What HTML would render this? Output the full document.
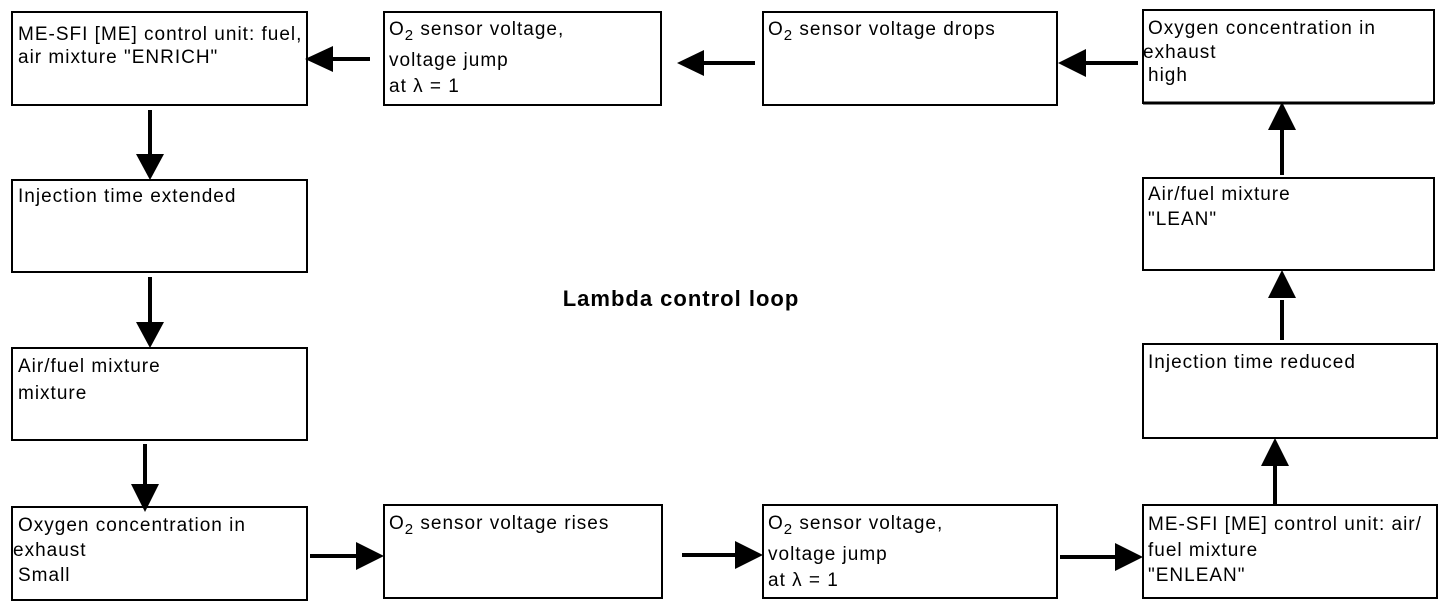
<!DOCTYPE html>
<html><head><meta charset="utf-8"><style>
html,body{margin:0;padding:0;background:#fff;width:1456px;height:610px;overflow:hidden}
svg text{font-family:"Liberation Sans",Arial,sans-serif;font-size:19px;letter-spacing:1px;fill:#000}
</style></head><body>
<svg width="1456" height="610" viewBox="0 0 1456 610" xmlns="http://www.w3.org/2000/svg">
<g fill="#fff" stroke="#000" stroke-width="2">
<rect x="12" y="12" width="295" height="93"/>
<rect x="384" y="12" width="277" height="93"/>
<rect x="763" y="12" width="294" height="93"/>
<rect x="1143" y="10" width="291" height="93"/>
<rect x="12" y="180" width="295" height="92"/>
<rect x="12" y="348" width="295" height="92"/>
<rect x="12" y="507" width="295" height="93"/>
<rect x="384" y="505" width="278" height="93"/>
<rect x="763" y="505" width="294" height="93"/>
<rect x="1143" y="505" width="294" height="93"/>
<rect x="1143" y="178" width="291" height="92"/>
<rect x="1143" y="344" width="294" height="94"/>
</g>
<line x1="1143" y1="103" x2="1434" y2="103" stroke="#000" stroke-width="3"/>
<g stroke="#000" stroke-width="4">
<line x1="370" y1="59" x2="330" y2="59"/>
<line x1="755" y1="63" x2="700" y2="63"/>
<line x1="1138" y1="63" x2="1080" y2="63"/>
<line x1="150" y1="110" x2="150" y2="158"/>
<line x1="150" y1="277" x2="150" y2="325"/>
<line x1="145" y1="444" x2="145" y2="485"/>
<line x1="310" y1="556" x2="360" y2="556"/>
<line x1="682" y1="555" x2="735" y2="555"/>
<line x1="1060" y1="557" x2="1115" y2="557"/>
<line x1="1275" y1="505" x2="1275" y2="465"/>
<line x1="1282" y1="340" x2="1282" y2="300"/>
<line x1="1282" y1="175" x2="1282" y2="130"/>
</g>
<g fill="#000">
<polygon points="305,59 333,46 333,72"/>
<polygon points="677,63 704,50 704,76"/>
<polygon points="1058,63 1086,49 1086,77"/>
<polygon points="150,180 136,154 164,154"/>
<polygon points="150,348 136,322 164,322"/>
<polygon points="145,512 131,484 159,484"/>
<polygon points="384,556 356,542 356,570"/>
<polygon points="763,555 735,541 735,569"/>
<polygon points="1143,557 1115,543 1115,571"/>
<polygon points="1275,438 1261,466 1289,466"/>
<polygon points="1282,270 1268,298 1296,298"/>
<polygon points="1282,102 1268,130 1296,130"/>
</g>
<text x="18" y="40">ME-SFI [ME] control unit: fuel,</text>
<text x="18" y="63">air mixture "ENRICH"</text>
<text x="389" y="35">O<tspan font-size="15" dy="5">2</tspan><tspan dy="-5"> sensor voltage,</tspan></text>
<text x="389" y="66">voltage jump</text>
<text x="389" y="92">at  λ = 1</text>
<text x="768" y="35">O<tspan font-size="15" dy="5">2</tspan><tspan dy="-5"> sensor voltage drops</tspan></text>
<text x="1148" y="34">Oxygen concentration in</text>
<text x="1143" y="58">exhaust</text>
<text x="1148" y="81">high</text>
<text x="18" y="202">Injection time extended</text>
<text x="18" y="372">Air/fuel mixture</text>
<text x="18" y="399">mixture</text>
<text x="18" y="531">Oxygen concentration in</text>
<text x="13" y="556">exhaust</text>
<text x="18" y="581">Small</text>
<text x="389" y="529">O<tspan font-size="15" dy="5">2</tspan><tspan dy="-5"> sensor voltage rises</tspan></text>
<text x="768" y="529">O<tspan font-size="15" dy="5">2</tspan><tspan dy="-5"> sensor voltage,</tspan></text>
<text x="768" y="560">voltage jump</text>
<text x="768" y="586">at  λ = 1</text>
<text x="1148" y="530">ME-SFI [ME] control unit: air/</text>
<text x="1148" y="556">fuel mixture</text>
<text x="1148" y="581">"ENLEAN"</text>
<text x="1148" y="200">Air/fuel mixture</text>
<text x="1148" y="225">"LEAN"</text>
<text x="1148" y="368">Injection time reduced</text>
<text x="681" y="306" text-anchor="middle" style="font-weight:bold;font-size:22px;letter-spacing:1px">Lambda control loop</text>
</svg>
</body></html>
